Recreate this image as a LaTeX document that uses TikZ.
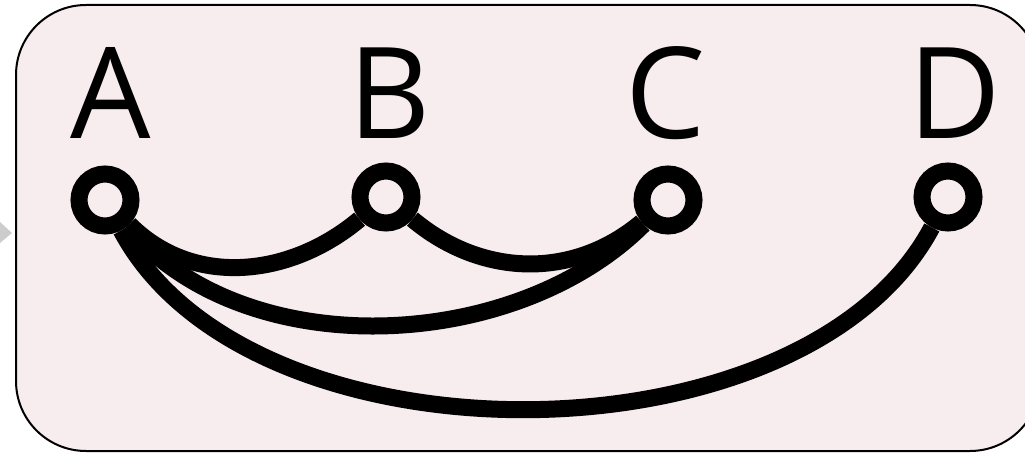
\documentclass[tikz,border=0pt]{standalone}
\usepackage{fontspec}
\setsansfont{Open Sans}
\definecolor{panel}{RGB}{247,236,238}
\tikzset{
  vertex/.style={circle, draw, line width=17pt, minimum size=52pt, inner sep=0pt, fill=panel},
  letter/.style={anchor=base, inner sep=0pt, font=\fontsize{127}{127}\selectfont\sffamily},
  link/.style={line width=17pt},
}
\begin{document}
\begin{tikzpicture}[x=1pt, y=1pt]
    \useasboundingbox (0,0) rectangle (1025,453);

    % panel
    \begin{scope}
      \clip (0,0) rectangle (1025,453);
      \draw[line width=2pt, fill=panel, rounded corners=70pt] (16,2) rectangle (1040,448);
    \end{scope}

    % incoming tip
    \fill[black!20] (0,231) -- (12,220) -- (0,210) -- cycle;

    % labels
    \node[letter] (lA) at (111,314) {A};
    \node[letter] (lB) at (390,314) {B};
    \node[letter] (lC) at (666,314) {C};
    \node[letter] (lD) at (955,314) {D};

    % vertices
    \node[vertex] (A) at (105,253) {};
    \node[vertex] (B) at (386,256) {};
    \node[vertex] (C) at (668,253) {};
    \node[vertex] (D) at (948,256) {};

    % links
    \draw[link] (A) to[out=-45, in=-140] (B);
    \draw[link] (B) to[out=-40, in=-140] (C);
    \draw[link] (A) to[out=-50, in=-135, looseness=0.9] (C);
    \draw[link] (A) to[out=-62, in=-118, looseness=0.86] (D);
\end{tikzpicture}
\end{document}
